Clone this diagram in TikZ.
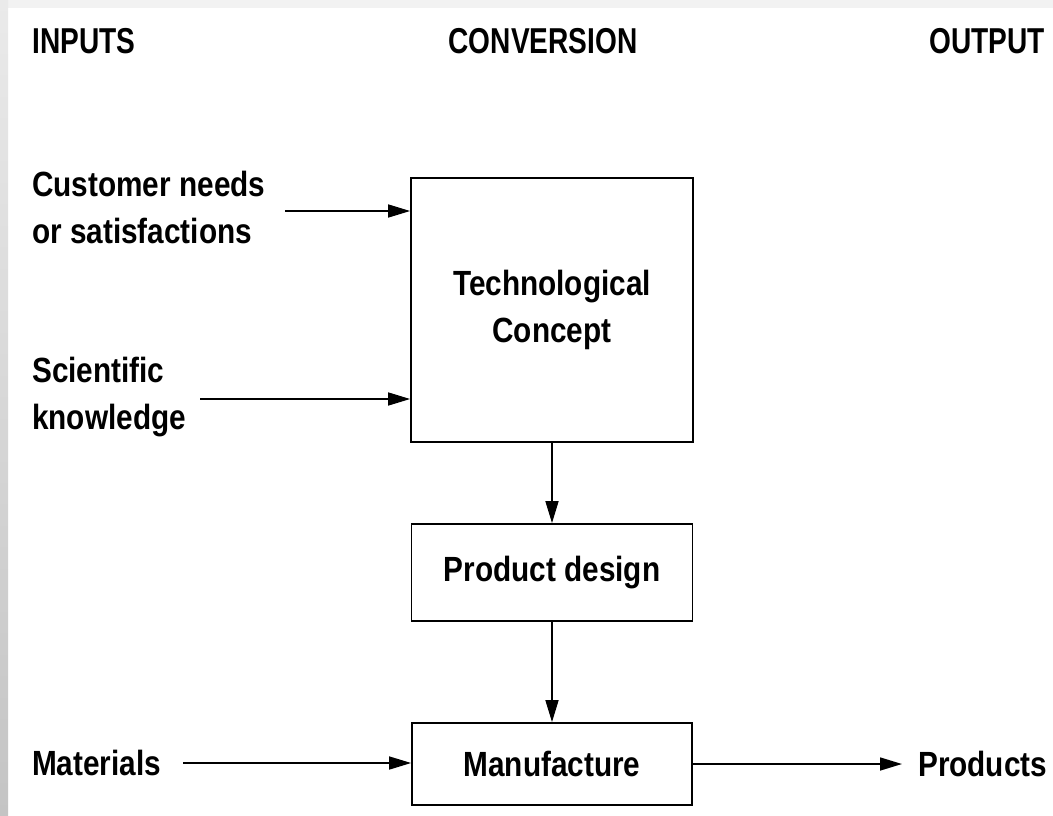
\documentclass[tikz,border=0pt]{standalone}
\usepackage{fontspec}
\setmainfont{Liberation Sans}[FakeStretch=0.85]
\newfontfamily\headfont{Liberation Sans}[FakeStretch=0.78]
\usetikzlibrary{arrows.meta}
\definecolor{edgegrey}{HTML}{C4C4C4}
\definecolor{edgelight}{HTML}{EAEAEA}
\definecolor{topgrey}{HTML}{F2F2F2}
\tikzset{
  flow/.style={line width=1.6pt, -{Triangle[length=22pt,width=13pt]}},
  stage/.style={draw, line width=1.8pt, align=center, inner sep=0pt,
    font=\fontsize{35}{47}\selectfont\bfseries},
  label/.style={align=left, inner sep=0pt,
    font=\fontsize{35}{47}\selectfont\bfseries},
  heading/.style={inner sep=0pt, font=\fontsize{36}{40}\selectfont\headfont\bfseries},
}
\begin{document}
\begin{tikzpicture}[x=1pt, y=-1pt]
\useasboundingbox (0,0) rectangle (1053,815);
\fill[white] (0,0) rectangle (1053,815);
% scanned page edges
\fill[topgrey] (0,0) rectangle (1053,8);
\shade[top color=edgelight, bottom color=edgegrey] (0,0) rectangle (8,815);

% column headings
\node[heading, anchor=base west] (hin) at (32,53) {INPUTS};
\node[heading, anchor=base] (hconv) at (543,53) {CONVERSION};
\node[heading, anchor=base east] (hout) at (1045,53) {OUTPUT};

% conversion stages
\node[stage, minimum width=282pt, minimum height=264pt] (tech) at (552,310) {Technological\\Concept};
\node[stage, minimum width=281pt, minimum height=97pt] (design) at (552,572.5) {Product design};
\node[stage, minimum width=280pt, minimum height=82pt] (manu) at (552,764) {Manufacture};

% inputs
\node[label, anchor=west] (cust) at (32,207) {Customer needs\\or satisfactions};
\node[label, anchor=west] (sci) at (32,397) {Scientific\\knowledge};
\node[label, anchor=west] (mat) at (32,763) {Materials};
\coordinate (custin) at (285,211);
\coordinate (sciin) at (200,399);

% output
\node[label, anchor=west] (prod) at (918,764) {Products};

% connectors
\draw[flow] (custin) -- (custin -| tech.west);
\draw[flow] (sciin) -- (sciin -| tech.west);
\draw[flow] (tech.south) -- (design.north);
\draw[flow] (design.south) -- (manu.north);
\draw[flow, shorten <=22pt] (mat.east) -- (mat.east -| manu.west);
\draw[flow, shorten >=16pt] (manu.east) -- (manu.east -| prod.west);
\end{tikzpicture}
\end{document}
